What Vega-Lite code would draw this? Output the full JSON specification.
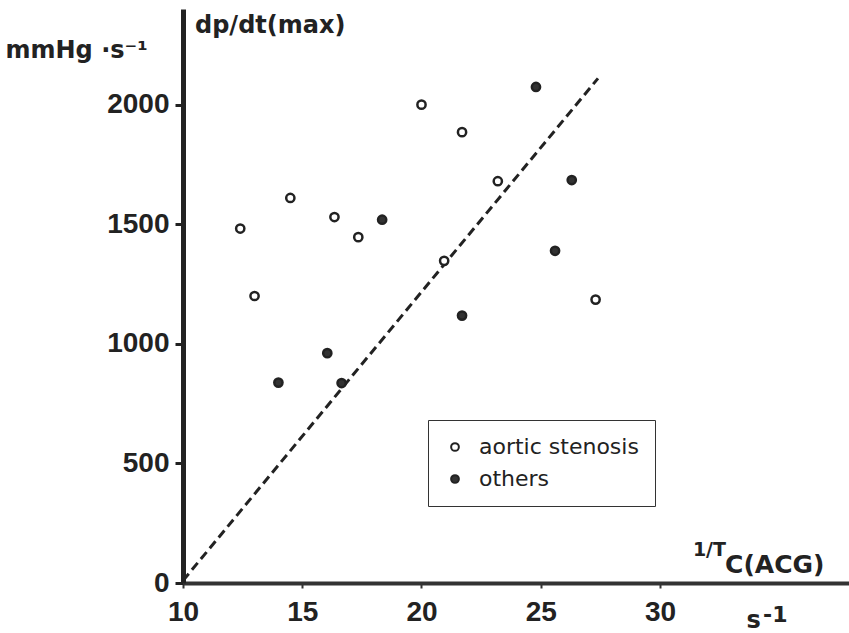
{
  "$schema": "https://vega.github.io/schema/vega-lite/v6.json",
  "width": 666,
  "height": 574,
  "autosize": {"type": "none"},
  "padding": {"left": 183, "top": 9, "right": 0, "bottom": 50},
  "background": "white",
  "title": {"text": "dp/dt(max)", "anchor": "start", "frame": "group", "orient": "top", "offset": 0, "baseline": "alphabetic", "dx": 12, "dy": 48, "font": "DejaVu Sans", "fontSize": 24, "fontWeight": "bold", "color": "#222"},
  "config": {"view": {"stroke": null}},
  "layer": [
    {
      "data": {"values": [{"x": 10, "y": 10}, {"x": 27.4, "y": 2110}]},
      "mark": {"type": "line", "strokeDash": [9, 5], "strokeWidth": 3, "color": "#222"},
      "encoding": {
        "x": {"field": "x", "type": "quantitative", "scale": {"domain": [10, 37.925], "nice": false, "zero": false},
          "axis": {"values": [10, 15, 20, 25, 30], "format": "d", "title": "s", "titleX": 563, "titleY": 44, "titleAlign": "left", "titleBaseline": "alphabetic", "titleFont": "DejaVu Sans", "titleFontSize": 24, "titleFontWeight": "bold", "titleColor": "#222", "domainWidth": 4, "domainColor": "#333", "tickSize": 5, "tickWidth": 2, "tickColor": "#333", "labelFont": "Liberation Sans", "labelFontSize": 28, "labelFontWeight": "bold", "labelColor": "#222", "labelPadding": 10, "grid": false, "labelFlush": false, "labelOverlap": false}},
        "y": {"field": "y", "type": "quantitative", "scale": {"domain": [0, 2400], "nice": false, "zero": false},
          "axis": {"values": [0, 500, 1000, 1500, 2000], "format": "d", "title": "mmHg ·s⁻¹", "titleAngle": 0, "titleX": -178, "titleY": 48, "titleAlign": "left", "titleBaseline": "alphabetic", "titleFont": "DejaVu Sans", "titleFontSize": 24, "titleFontWeight": "bold", "titleColor": "#222", "domainWidth": 5, "domainColor": "#222", "tickSize": 8, "tickWidth": 3, "tickColor": "#222", "labelFont": "Liberation Sans", "labelFontSize": 28, "labelFontWeight": "bold", "labelColor": "#222", "labelPadding": 6, "grid": false, "labelFlush": false, "labelOverlap": false}}
      }
    },
    {
      "data": {"values": [
        {"x": 20.0, "y": 2000, "group": "aortic stenosis"},
        {"x": 21.7, "y": 1885, "group": "aortic stenosis"},
        {"x": 23.2, "y": 1680, "group": "aortic stenosis"},
        {"x": 14.5, "y": 1610, "group": "aortic stenosis"},
        {"x": 12.4, "y": 1482, "group": "aortic stenosis"},
        {"x": 16.35, "y": 1530, "group": "aortic stenosis"},
        {"x": 17.35, "y": 1446, "group": "aortic stenosis"},
        {"x": 20.95, "y": 1347, "group": "aortic stenosis"},
        {"x": 13.0, "y": 1200, "group": "aortic stenosis"},
        {"x": 27.3, "y": 1185, "group": "aortic stenosis"},
        {"x": 18.35, "y": 1519, "group": "others"},
        {"x": 21.7, "y": 1118, "group": "others"},
        {"x": 16.05, "y": 961, "group": "others"},
        {"x": 14.0, "y": 838, "group": "others"},
        {"x": 16.65, "y": 836, "group": "others"},
        {"x": 24.8, "y": 2074, "group": "others"},
        {"x": 26.3, "y": 1685, "group": "others"},
        {"x": 25.6, "y": 1389, "group": "others"}
      ]},
      "mark": {"type": "point", "shape": "circle", "filled": true, "size": 68, "strokeWidth": 2.5, "stroke": "#222", "opacity": 1},
      "encoding": {
        "x": {"field": "x", "type": "quantitative"},
        "y": {"field": "y", "type": "quantitative"},
        "fill": {"field": "group", "type": "nominal", "scale": {"domain": ["aortic stenosis", "others"], "range": ["white", "#333"]},
          "legend": {"orient": "none", "legendX": 245, "legendY": 411, "title": null, "strokeColor": "#333", "fillColor": "white", "padding": 16, "symbolType": "circle", "symbolSize": 60, "symbolStrokeColor": "#222", "symbolStrokeWidth": 2, "symbolOpacity": 1, "labelFont": "DejaVu Sans", "labelFontSize": 22, "labelColor": "#222", "labelOffset": 13, "rowPadding": 10}}
      }
    },
    {
      "data": {"values": [{}]},
      "mark": {"type": "text", "text": "1/T", "align": "left", "baseline": "alphabetic", "font": "DejaVu Sans", "fontSize": 19, "fontWeight": "bold", "color": "#222"},
      "encoding": {"x": {"datum": 31.38}, "y": {"datum": 113}}
    },
    {
      "data": {"values": [{}]},
      "mark": {"type": "text", "text": "C(ACG)", "align": "left", "baseline": "alphabetic", "font": "DejaVu Sans", "fontSize": 25, "fontWeight": "bold", "color": "#222"},
      "encoding": {"x": {"datum": 32.73}, "y": {"datum": 42}}
    },
    {
      "data": {"values": [{}]},
      "mark": {"type": "text", "text": "-1", "align": "left", "baseline": "alphabetic", "font": "DejaVu Sans", "fontSize": 22, "fontWeight": "bold", "color": "#222"},
      "encoding": {"x": {"datum": 34.32}, "y": {"datum": -163}}
    }
  ]
}
